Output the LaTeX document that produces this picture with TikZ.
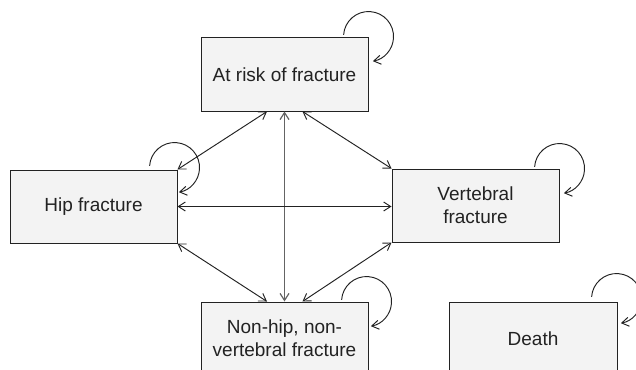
\documentclass[tikz,border=0pt]{standalone}
\usepackage{fontspec}
\setmainfont{Liberation Sans}
\usetikzlibrary{arrows.meta,calc}
\definecolor{boxfill}{HTML}{F3F3F3}
\definecolor{ink}{HTML}{222222}
\begin{document}
\begin{tikzpicture}[x=1pt,y=1pt,
  state/.style={draw=ink,fill=boxfill,line width=1pt,minimum width=167pt,minimum height=73pt,
    inner sep=0pt,align=center,text=ink,font=\fontsize{19}{23}\selectfont},
  link/.style={draw=ink,line width=0.95pt,{Straight Barb[length=7pt,width=9pt]}-{Straight Barb[length=7pt,width=9pt]}},
  selfloop/.style={draw=ink,line width=0.95pt,-{Straight Barb[length=7pt,width=9pt]}}]
\useasboundingbox (0,0) rectangle (636,-369);
\clip (0,0) rectangle (636,-369);
\node[state] (atrisk) at (284.5,-74.5) {At risk of fracture};
\node[state] (hip) at (93.5,-206.5) {Hip fracture};
\node[state] (vert) at (475.5,-205.5) {Vertebral\\fracture};
\node[state] (nonhip) at (284.5,-338.5) {Non-hip, non-\\vertebral fracture};
\node[state,minimum width=168pt] (death) at (533,-338.5) {Death};
% connectors
\draw[link] ($(atrisk.south)+(-17.5,0)$) -- (hip.north east);
\draw[link] ($(atrisk.south)+(18,0)$) -- (vert.north west);
\draw[link,draw=ink!70,line width=1.2pt] (atrisk.south) -- (nonhip.north);
\draw[link] (hip.east) -- (hip.east -| vert.west);
\draw[link] (hip.south east) -- ($(nonhip.north)+(-17.5,0)$);
\draw[link] (vert.south west) -- ($(nonhip.north)+(18,0)$);
% self loops
\draw[selfloop] ($(atrisk.north east)+(0,1)+(-24.9,1.7)$) arc[start angle=176,end angle=-80,radius=25];
\draw[selfloop] ($(hip.north east)+(-3,2)+(-24.9,1.7)$) arc[start angle=176,end angle=-80,radius=25];
\draw[selfloop] ($(vert.north east)+(-24.9,1.7)$) arc[start angle=176,end angle=-80,radius=25];
\draw[selfloop] ($(nonhip.north east)+(-2,0)+(-24.9,1.7)$) arc[start angle=176,end angle=-80,radius=25];
\draw[selfloop] ($(death.north east)+(-1,3)+(-24.9,1.7)$) arc[start angle=176,end angle=-80,radius=25];
\end{tikzpicture}
\end{document}
